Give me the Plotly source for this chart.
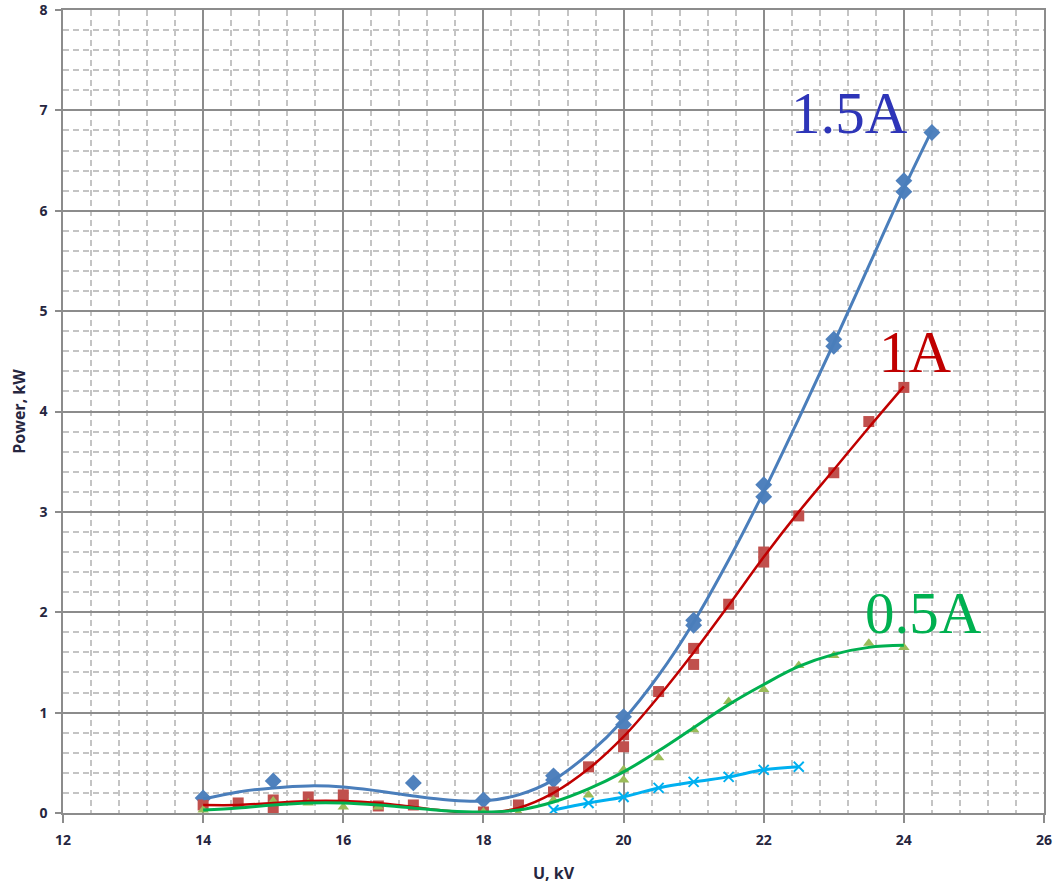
import plotly.graph_objects as go

# Measured points: power (kW) against voltage (kV) for each current
u_15a = [14, 15, 17, 18, 19, 19, 20, 20, 21, 21, 22, 22, 23, 23, 24, 24, 24.4]
p_15a = [0.15, 0.32, 0.30, 0.13, 0.37, 0.33, 0.96, 0.88, 1.92, 1.87, 3.27, 3.15,
         4.72, 4.65, 6.30, 6.19, 6.78]

u_1a = [14, 14.5, 15, 15, 15.5, 16, 16.5, 17, 18, 18.5, 19, 19.5, 20, 20, 20.5,
        21, 21, 21.5, 22, 22, 22.5, 23, 23.5, 24]
p_1a = [0.08, 0.10, 0.13, 0.02, 0.16, 0.18, 0.07, 0.08, 0.01, 0.08, 0.21, 0.46,
        0.78, 0.66, 1.21, 1.64, 1.48, 2.08, 2.60, 2.50, 2.96, 3.39, 3.90, 4.24]

u_05a = [14, 15, 15.5, 16, 16.5, 18, 18.5, 19, 19.5, 20, 20, 20.5, 21, 21.5, 22,
         22.5, 23, 23.5, 24]
p_05a = [0.03, 0.12, 0.10, 0.06, 0.06, 0.01, 0.00, 0.13, 0.18, 0.43, 0.33, 0.55,
         0.83, 1.11, 1.23, 1.47, 1.57, 1.69, 1.65]

u_low = [19, 19.5, 20, 20.5, 21, 21.5, 22, 22.5]
p_low = [0.03, 0.10, 0.16, 0.25, 0.31, 0.36, 0.43, 0.46]

# Smoothed trend curves
trend_u = [14, 14.5, 15, 15.5, 16, 16.5, 17, 17.5, 18, 18.5, 19, 19.5, 20, 20.5,
           21, 21.5, 22, 22.5, 23, 23.5, 24]
trend_15a = [0.14, 0.21, 0.25, 0.27, 0.26, 0.22, 0.17, 0.13, 0.12, 0.18, 0.33,
             0.59, 0.93, 1.37, 1.90, 2.52, 3.20, 3.93, 4.68, 5.45, 6.22]
trend_15a_end = [24.4, 6.80]
trend_1a = [0.08, 0.08, 0.10, 0.12, 0.12, 0.10, 0.06, 0.02, 0.00, 0.05, 0.20,
            0.44, 0.76, 1.16, 1.60, 2.07, 2.55, 3.00, 3.42, 3.84, 4.25]
trend_05a = [0.03, 0.05, 0.08, 0.10, 0.10, 0.08, 0.05, 0.02, 0.01, 0.03, 0.11,
             0.24, 0.41, 0.62, 0.85, 1.08, 1.28, 1.46, 1.58, 1.65, 1.67]

x_ticks = [12, 14, 16, 18, 20, 22, 24, 26]
y_ticks = [0, 1, 2, 3, 4, 5, 6, 7, 8]

BLUE_M = "#4F81BD"
BLUE_L = "#4A7EBB"
RED_M = "#C0504D"
RED_L = "#C00000"
GREEN_M = "#9BBB59"
GREEN_L = "#00B050"
CYAN = "#00B0F0"

fig = go.Figure()

fig.add_trace(go.Scatter(x=u_15a, y=p_15a, mode="markers",
                         marker=dict(symbol="diamond", size=13, color=BLUE_M)))
fig.add_trace(go.Scatter(x=u_1a, y=p_1a, mode="markers",
                         marker=dict(symbol="square", size=11, color=RED_M)))
fig.add_trace(go.Scatter(x=u_05a, y=p_05a, mode="markers",
                         marker=dict(symbol="triangle-up", size=10, color=GREEN_M)))
fig.add_trace(go.Scatter(x=u_low, y=p_low, mode="lines+markers",
                         line=dict(color=CYAN, width=3, shape="spline"),
                         marker=dict(symbol="x-thin", size=10,
                                     line=dict(color=CYAN, width=2))))

fig.add_trace(go.Scatter(x=trend_u + [trend_15a_end[0]],
                         y=trend_15a + [trend_15a_end[1]], mode="lines",
                         line=dict(color=BLUE_L, width=3, shape="spline")))
fig.add_trace(go.Scatter(x=trend_u, y=trend_1a, mode="lines",
                         line=dict(color=RED_L, width=2.5, shape="spline")))
fig.add_trace(go.Scatter(x=trend_u, y=trend_05a, mode="lines",
                         line=dict(color=GREEN_L, width=3, shape="spline")))

label_font = dict(family="Liberation Serif, Times New Roman, serif", size=59)
fig.add_annotation(x=23.22, y=6.97, text="1.5A", showarrow=False,
                   font=dict(color="#2E35B8", **label_font))
fig.add_annotation(x=24.17, y=4.59, text="1A", showarrow=False,
                   font=dict(color="#C00000", **label_font))
fig.add_annotation(x=24.28, y=1.99, text="0.5A", showarrow=False,
                   font=dict(color="#00B050", **label_font))

tick_font = dict(family="Open Sans, Liberation Sans, sans-serif", size=14,
                 color="#262640", weight="bold")
title_font = dict(family="Open Sans, Liberation Sans, sans-serif", size=16,
                  color="#262640", weight="bold")

fig.update_xaxes(range=[12, 26], tickvals=x_ticks, ticktext=[str(v) for v in x_ticks],
                 automargin=False, ticklabeloverflow="allow", ticklabelstandoff=5,
                 showgrid=True, gridcolor="#8C8C8C", gridwidth=1.5,
                 showline=True, mirror=True, linecolor="#8C8C8C", linewidth=1.5,
                 ticks="outside", ticklen=8, tickcolor="#8C8C8C", tickwidth=1.5,
                 tickfont=tick_font, zeroline=False,
                 minor=dict(dtick=0.4, showgrid=True, gridcolor="#C4C4C4",
                            griddash="6px,4px", gridwidth=1.5),
                 title=dict(text="U, kV", font=title_font, standoff=20))
fig.update_yaxes(range=[0, 8], tickvals=y_ticks, ticktext=[str(v) for v in y_ticks],
                 automargin=False, ticklabeloverflow="allow", ticklabelstandoff=5,
                 showgrid=True, gridcolor="#8C8C8C", gridwidth=1.5,
                 showline=True, mirror=True, linecolor="#8C8C8C", linewidth=1.5,
                 ticks="outside", ticklen=6, tickcolor="#8C8C8C", tickwidth=1.5,
                 tickfont=tick_font, zeroline=False,
                 minor=dict(dtick=0.2, showgrid=True, gridcolor="#C4C4C4",
                            griddash="6px,4px", gridwidth=1.5),
                 title=dict(text="Power, kW", font=title_font, standoff=10))

fig.update_layout(width=1056, height=884, showlegend=False,
                  paper_bgcolor="white", plot_bgcolor="white",
                  margin=dict(l=63, r=12, t=10, b=71))

fig.write_html("out.html")
